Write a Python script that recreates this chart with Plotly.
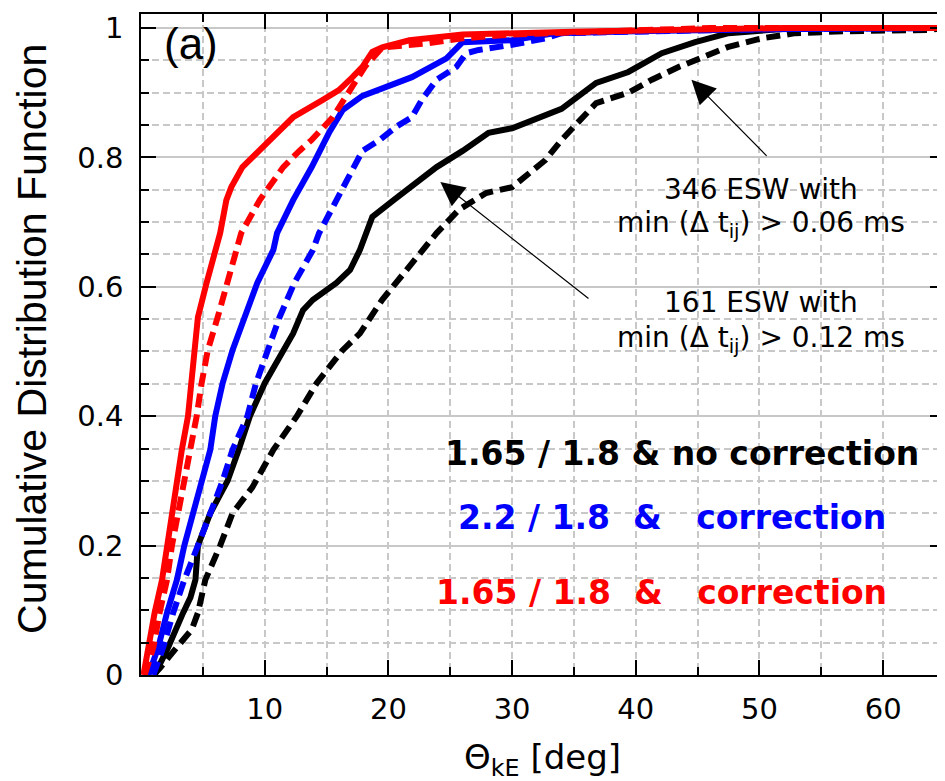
import plotly.graph_objects as go

# ---- data ----
red_solid_x = [0.2, 0.6, 1.1, 1.7, 2.1, 2.5, 2.9, 3.3, 3.8, 4.1, 4.4, 4.6, 5.3, 6.0, 6.4, 6.9, 7.3, 8.2, 9.8, 11.0, 12.3, 14.7, 16.0, 17.1, 17.9, 18.7, 19.5, 21.7, 26.0, 35.0, 45.0, 52.0, 65.0]
red_solid_y = [0.0, 0.043, 0.096, 0.147, 0.20, 0.25, 0.30, 0.348, 0.40, 0.451, 0.502, 0.553, 0.606, 0.657, 0.683, 0.734, 0.754, 0.785, 0.816, 0.838, 0.862, 0.889, 0.904, 0.924, 0.94, 0.963, 0.97, 0.981, 0.99, 0.994, 0.997, 1.0, 1.0]

red_dash_x = [0.3, 1.0, 1.5, 2.1, 2.5, 3.0, 3.5, 4.0, 4.5, 4.9, 5.4, 6.2, 7.0, 7.7, 8.1, 9.6, 11.5, 12.8, 13.8, 15.5, 16.7, 18.1, 19.5, 21.0, 23.0, 26.0, 30.0, 38.0, 46.0, 65.0]
red_dash_y = [0.0, 0.043, 0.096, 0.147, 0.20, 0.25, 0.30, 0.348, 0.40, 0.451, 0.502, 0.553, 0.606, 0.657, 0.683, 0.734, 0.785, 0.81, 0.827, 0.862, 0.90, 0.94, 0.97, 0.972, 0.976, 0.984, 0.99, 0.995, 1.0, 1.0]

blue_solid_x = [0.6, 1.4, 2.1, 2.9, 3.5, 4.2, 4.9, 5.6, 6.0, 6.6, 7.4, 8.4, 9.4, 10.7, 11.0, 12.3, 13.8, 15.2, 16.3, 17.9, 19.3, 21.9, 24.7, 26.0, 30.0, 33.5, 40.0, 50.0, 65.0]
blue_solid_y = [0.0, 0.043, 0.096, 0.147, 0.20, 0.25, 0.30, 0.348, 0.40, 0.451, 0.502, 0.553, 0.606, 0.657, 0.683, 0.734, 0.785, 0.838, 0.873, 0.895, 0.905, 0.924, 0.953, 0.978, 0.981, 0.992, 0.995, 0.998, 1.0]

blue_dash_x = [1.0, 1.8, 2.6, 3.5, 4.6, 5.6, 6.6, 7.4, 8.6, 9.3, 10.2, 11.2, 12.4, 13.9, 14.4, 15.8, 17.9, 19.3, 20.6, 21.9, 22.7, 23.9, 25.5, 26.3, 27.3, 30.0, 32.7, 34.0, 40.0, 50.0, 65.0]
blue_dash_y = [0.0, 0.043, 0.096, 0.147, 0.20, 0.25, 0.30, 0.348, 0.40, 0.451, 0.502, 0.553, 0.606, 0.657, 0.683, 0.734, 0.81, 0.827, 0.847, 0.862, 0.889, 0.92, 0.94, 0.961, 0.966, 0.974, 0.984, 0.992, 0.995, 0.998, 1.0]

black_solid_x = [1.1, 2.2, 3.4, 4.0, 4.4, 4.6, 5.6, 7.0, 7.9, 8.8, 10.0, 11.5, 12.3, 13.1, 13.9, 15.8, 16.9, 17.7, 18.7, 20.5, 22.3, 23.9, 26.0, 28.1, 30.0, 32.0, 34.0, 36.8, 39.4, 42.1, 44.8, 47.5, 50.2, 53.0, 65.0]
black_solid_y = [0.0, 0.043, 0.096, 0.12, 0.147, 0.20, 0.25, 0.30, 0.348, 0.40, 0.451, 0.502, 0.528, 0.564, 0.58, 0.606, 0.626, 0.657, 0.708, 0.735, 0.76, 0.785, 0.81, 0.838, 0.845, 0.86, 0.875, 0.915, 0.932, 0.961, 0.978, 0.992, 0.997, 1.0, 1.0]

black_dash_x = [1.0, 1.5, 2.9, 4.1, 4.6, 5.2, 6.4, 7.4, 9.0, 10.7, 12.6, 14.2, 16.3, 17.7, 19.5, 21.7, 22.7, 23.9, 25.7, 27.9, 30.0, 31.4, 32.7, 34.0, 35.4, 36.8, 39.4, 41.3, 43.5, 44.8, 46.1, 47.5, 50.2, 52.9, 57.0, 63.6, 65.0]
black_dash_y = [0.0, 0.01, 0.043, 0.07, 0.096, 0.147, 0.20, 0.25, 0.29, 0.348, 0.40, 0.451, 0.502, 0.528, 0.58, 0.631, 0.657, 0.683, 0.719, 0.745, 0.754, 0.776, 0.796, 0.827, 0.855, 0.884, 0.90, 0.92, 0.94, 0.95, 0.961, 0.971, 0.984, 0.992, 0.995, 0.997, 1.0]

x_tick_vals = [10, 20, 30, 40, 50, 60]
x_tick_text = ["10", "20", "30", "40", "50", "60"]
y_tick_vals = [0, 0.2, 0.4, 0.6, 0.8, 1.0]
y_tick_text = ["0", "0.2", "0.4", "0.6", "0.8", "1"]

series = [
    (black_solid_x, black_solid_y, "#000000", "solid"),
    (black_dash_x, black_dash_y, "#000000", "14px,7px"),
    (blue_solid_x, blue_solid_y, "#0000ff", "solid"),
    (blue_dash_x, blue_dash_y, "#0000ff", "14px,7px"),
    (red_solid_x, red_solid_y, "#ff0000", "solid"),
    (red_dash_x, red_dash_y, "#ff0000", "14px,7px"),
]

fig = go.Figure()
for xs, ys, col, dash in series:
    fig.add_trace(go.Scatter(x=xs, y=ys, mode="lines",
                             line=dict(color=col, width=6, dash=dash),
                             showlegend=False, hoverinfo="skip"))

GRID = "#c8c8c8"
tickfont = dict(family="DejaVu Sans", size=29, color="black")

# the page body adds an 8px offset; the figure is sized to fill the rest of the window
fig.update_layout(
    template="none",
    width=937, height=773,
    margin=dict(l=133, r=0, t=6, b=106, autoexpand=False),
    paper_bgcolor="white", plot_bgcolor="white",
    showlegend=False,
    xaxis=dict(
        range=[0, 65], tickmode="array", tickvals=x_tick_vals, ticktext=x_tick_text,
        ticks="inside", ticklen=15, tickwidth=1.5, tickcolor="black",
        showline=True, linecolor="black", linewidth=1.5, mirror="ticks",
        showgrid=True, gridcolor=GRID, gridwidth=1.5, griddash="7px,4px",
        zeroline=False, tickfont=tickfont, ticklabelstandoff=7, automargin=False,
        minor=dict(dtick=5, tick0=0, ticks="inside", ticklen=8, tickwidth=1.5, tickcolor="black",
                   showgrid=True, gridcolor=GRID, gridwidth=1.5, griddash="7px,4px"),
    ),
    yaxis=dict(
        range=[0, 1.0216], tickmode="array", tickvals=y_tick_vals, ticktext=y_tick_text,
        ticks="inside", ticklen=15, tickwidth=1.5, tickcolor="black",
        showline=True, linecolor="black", linewidth=1.5, mirror="ticks",
        showgrid=True, gridcolor=GRID, gridwidth=1.5,
        zeroline=False, tickfont=tickfont, ticklabelstandoff=10, automargin=False,
        minor=dict(dtick=0.05, tick0=0, ticks="inside", ticklen=8, tickwidth=1.5, tickcolor="black",
                   showgrid=True, gridcolor=GRID, gridwidth=1.5, griddash="7px,4px"),
    ),
)

ann_font = dict(family="DejaVu Sans", size=28, color="black")
bold_font = dict(family="DejaVu Sans", size=33)
nb = "\u00a0"

annotations = [
    dict(text="Cumulative Distribution Function", xref="paper", yref="paper",
         x=-0.1347, y=0.508, xanchor="center", yanchor="middle", textangle=-90,
         showarrow=False, font=dict(family="Liberation Sans", size=41, color="black")),
    dict(text="Θ<sub>kE</sub> [deg]", xref="paper", yref="paper",
         x=0.499, y=-0.128, xanchor="center", yanchor="middle",
         showarrow=False, font=dict(family="DejaVu Sans", size=34, color="black")),
    dict(text="(a)", xref="paper", yref="paper", x=0.026, y=0.955,
         xanchor="left", yanchor="middle", showarrow=False,
         font=dict(family="Liberation Sans", size=44, color="black")),
    dict(text="346 ESW with", x=50.1, y=0.75, xanchor="center", yanchor="middle",
         showarrow=False, font=ann_font),
    dict(text="min (Δ t<sub>ij</sub>) > 0.06 ms", x=50.1, y=0.697, xanchor="center", yanchor="middle",
         showarrow=False, font=ann_font),
    dict(text="161 ESW with", x=50.1, y=0.575, xanchor="center", yanchor="middle",
         showarrow=False, font=ann_font),
    dict(text="min (Δ t<sub>ij</sub>) > 0.12 ms", x=50.1, y=0.519, xanchor="center", yanchor="middle",
         showarrow=False, font=ann_font),
    dict(text="<b>1.65 / 1.8 & no correction</b>", x=43.7, y=0.343, xanchor="center", yanchor="middle",
         showarrow=False, font=dict(bold_font, color="#000000")),
    dict(text=f"<b>2.2 / 1.8{nb}{nb}&{nb}{nb}{nb}correction</b>", x=42.9, y=0.243, xanchor="center",
         yanchor="middle", showarrow=False, font=dict(bold_font, color="#0000ff")),
    dict(text=f"<b>1.65 / 1.8{nb}{nb}&{nb}{nb}{nb}correction</b>", x=42.1, y=0.128, xanchor="center",
         yanchor="middle", showarrow=False, font=dict(bold_font, color="#ff0000")),
    # arrows
    dict(text="", x=44.5, y=0.92, ax=50.7, ay=0.80, axref="x", ayref="y", xref="x", yref="y",
         showarrow=True, arrowhead=2, arrowsize=4, arrowwidth=1.2, arrowcolor="black"),
    dict(text="", x=24.2, y=0.762, ax=36.3, ay=0.58, axref="x", ayref="y", xref="x", yref="y",
         showarrow=True, arrowhead=2, arrowsize=4, arrowwidth=1.2, arrowcolor="black"),
]
fig.update_layout(annotations=annotations)

fig.write_html("out.html")
